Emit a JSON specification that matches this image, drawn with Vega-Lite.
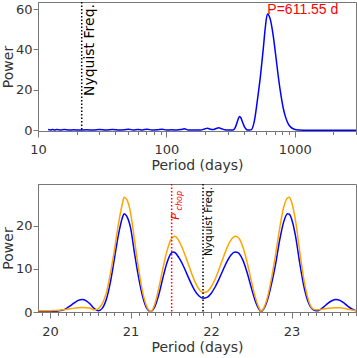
{
  "$schema": "https://vega.github.io/schema/vega-lite/v6.json",
  "padding": {"left": 0, "top": 0, "right": 2, "bottom": 1},
  "spacing": 9,
  "config": {
    "view": {"stroke": "#777", "strokeWidth": 1},
    "axis": {"labelFont": "DejaVu Sans", "titleFont": "DejaVu Sans", "labelFontSize": 13, "titleFontSize": 14, "titleFontWeight": "normal", "labelColor": "#333", "titleColor": "#333", "domainColor": "#777", "tickColor": "#777", "grid": false}
  },
  "datasets": {
    "top": [
      {"period": 12, "power": 0.3}, {"period": 12.5, "power": 0.1}, {"period": 13, "power": 0.4}, {"period": 13.5, "power": 0.1},
      {"period": 14, "power": 0.3}, {"period": 15, "power": 0.1}, {"period": 16, "power": 0.3}, {"period": 17.5, "power": 0.1},
      {"period": 19, "power": 0.2}, {"period": 21, "power": 0.1}, {"period": 24, "power": 0.2}, {"period": 27, "power": 0.05},
      {"period": 30, "power": 0.3}, {"period": 34, "power": 0.1}, {"period": 38, "power": 0.3}, {"period": 43, "power": 0.05},
      {"period": 47, "power": 0.2}, {"period": 51, "power": 0.5}, {"period": 55, "power": 0.05}, {"period": 60, "power": 0.3},
      {"period": 65, "power": 0.1}, {"period": 71, "power": 0.5}, {"period": 77, "power": 0.05}, {"period": 85, "power": 0.2},
      {"period": 93, "power": 0.5}, {"period": 100, "power": 0.05}, {"period": 110, "power": 0.2}, {"period": 120, "power": 0.1},
      {"period": 130, "power": 0.3}, {"period": 138, "power": 0.7}, {"period": 148, "power": 0.1}, {"period": 165, "power": 0.05},
      {"period": 185, "power": 0.1}, {"period": 198, "power": 0.6}, {"period": 209, "power": 1.0}, {"period": 220, "power": 0.5},
      {"period": 231, "power": 0.3}, {"period": 244, "power": 0.8}, {"period": 256, "power": 1.2}, {"period": 270, "power": 0.7},
      {"period": 285, "power": 0.2}, {"period": 302, "power": 0.05}, {"period": 320, "power": 0.05}, {"period": 331, "power": 0.1},
      {"period": 345, "power": 1.5}, {"period": 355, "power": 3.8}, {"period": 365, "power": 6.0}, {"period": 372, "power": 6.8},
      {"period": 380, "power": 6.2}, {"period": 392, "power": 4.0}, {"period": 405, "power": 1.8}, {"period": 420, "power": 0.4},
      {"period": 433, "power": 0.05}, {"period": 447, "power": 0.1}, {"period": 460, "power": 0.3}, {"period": 486, "power": 5},
      {"period": 512, "power": 15}, {"period": 541, "power": 27}, {"period": 568, "power": 40}, {"period": 590, "power": 51},
      {"period": 612, "power": 57.5}, {"period": 645, "power": 54.9}, {"period": 676, "power": 47.8}, {"period": 708, "power": 38},
      {"period": 741, "power": 27.6}, {"period": 777, "power": 18.2}, {"period": 813, "power": 11}, {"period": 852, "power": 6.1},
      {"period": 892, "power": 3}, {"period": 935, "power": 1.4}, {"period": 980, "power": 0.6}, {"period": 1075, "power": 0.1},
      {"period": 1180, "power": 0.02}, {"period": 1500, "power": 0.01}, {"period": 2000, "power": 0.01}, {"period": 3000, "power": 0.01}
    ],
    "bottom": [
      {"period": 19.85, "blue": 0.2, "orange": 0.3}, {"period": 19.9, "blue": 0.2, "orange": 0.3},
      {"period": 19.95, "blue": 0.2, "orange": 0.3}, {"period": 20.0, "blue": 0.2, "orange": 0.3},
      {"period": 20.05, "blue": 0.2, "orange": 0.35}, {"period": 20.1, "blue": 0.25, "orange": 0.4},
      {"period": 20.15, "blue": 0.4, "orange": 0.5}, {"period": 20.2, "blue": 0.8, "orange": 0.6},
      {"period": 20.25, "blue": 1.4, "orange": 0.75}, {"period": 20.3, "blue": 2.1, "orange": 0.9},
      {"period": 20.35, "blue": 2.7, "orange": 1.0}, {"period": 20.4, "blue": 2.9, "orange": 1.05},
      {"period": 20.45, "blue": 2.6, "orange": 1.0}, {"period": 20.5, "blue": 1.8, "orange": 0.85},
      {"period": 20.55, "blue": 0.8, "orange": 0.5}, {"period": 20.6, "blue": 0.3, "orange": 0.8},
      {"period": 20.65, "blue": 0.9, "orange": 2.0}, {"period": 20.7, "blue": 3.0, "orange": 4.5},
      {"period": 20.75, "blue": 7.0, "orange": 9.0}, {"period": 20.8, "blue": 12.5, "orange": 14.5},
      {"period": 20.85, "blue": 18.0, "orange": 20.5}, {"period": 20.9, "blue": 22.0, "orange": 25.3},
      {"period": 20.92, "blue": 22.8, "orange": 26.6}, {"period": 20.95, "blue": 22.3, "orange": 26.2},
      {"period": 21.0, "blue": 19.5, "orange": 23.0}, {"period": 21.05, "blue": 13.5, "orange": 16.5},
      {"period": 21.1, "blue": 8.0, "orange": 10.0}, {"period": 21.15, "blue": 3.6, "orange": 4.6},
      {"period": 21.2, "blue": 0.9, "orange": 1.3}, {"period": 21.25, "blue": 0.1, "orange": 0.1},
      {"period": 21.3, "blue": 1.2, "orange": 1.8}, {"period": 21.35, "blue": 4.0, "orange": 5.5},
      {"period": 21.4, "blue": 7.8, "orange": 10.0}, {"period": 21.45, "blue": 11.3, "orange": 14.0},
      {"period": 21.5, "blue": 13.5, "orange": 16.8}, {"period": 21.53, "blue": 13.9, "orange": 17.5},
      {"period": 21.55, "blue": 13.8, "orange": 17.6}, {"period": 21.6, "blue": 12.6, "orange": 16.5},
      {"period": 21.65, "blue": 10.9, "orange": 14.5}, {"period": 21.7, "blue": 8.8, "orange": 12.0},
      {"period": 21.75, "blue": 6.7, "orange": 9.4}, {"period": 21.8, "blue": 4.9, "orange": 7.0},
      {"period": 21.85, "blue": 3.7, "orange": 5.3}, {"period": 21.9, "blue": 3.2, "orange": 4.5},
      {"period": 21.95, "blue": 3.4, "orange": 4.7}, {"period": 22.0, "blue": 4.3, "orange": 5.8},
      {"period": 22.05, "blue": 5.8, "orange": 7.6}, {"period": 22.1, "blue": 7.7, "orange": 10.0},
      {"period": 22.15, "blue": 9.8, "orange": 12.6}, {"period": 22.2, "blue": 11.8, "orange": 15.0},
      {"period": 22.25, "blue": 13.3, "orange": 16.8}, {"period": 22.3, "blue": 13.9, "orange": 17.6},
      {"period": 22.33, "blue": 13.8, "orange": 17.4}, {"period": 22.35, "blue": 13.5, "orange": 17.0},
      {"period": 22.4, "blue": 11.8, "orange": 14.8}, {"period": 22.45, "blue": 9.0, "orange": 11.3},
      {"period": 22.5, "blue": 5.6, "orange": 7.2}, {"period": 22.55, "blue": 2.5, "orange": 3.4},
      {"period": 22.6, "blue": 0.5, "orange": 0.8}, {"period": 22.62, "blue": 0.1, "orange": 0.2},
      {"period": 22.65, "blue": 0.6, "orange": 0.8}, {"period": 22.7, "blue": 2.8, "orange": 3.4},
      {"period": 22.75, "blue": 6.5, "orange": 7.8}, {"period": 22.8, "blue": 11.0, "orange": 13.2},
      {"period": 22.85, "blue": 16.5, "orange": 19.2}, {"period": 22.9, "blue": 20.8, "orange": 24.2},
      {"period": 22.95, "blue": 22.8, "orange": 26.5}, {"period": 22.97, "blue": 22.7, "orange": 26.6},
      {"period": 23.0, "blue": 21.6, "orange": 25.5}, {"period": 23.05, "blue": 17.5, "orange": 21.0},
      {"period": 23.1, "blue": 11.5, "orange": 14.2}, {"period": 23.15, "blue": 6.2, "orange": 7.8},
      {"period": 23.2, "blue": 2.6, "orange": 3.4}, {"period": 23.25, "blue": 0.8, "orange": 1.0},
      {"period": 23.3, "blue": 0.3, "orange": 0.5}, {"period": 23.33, "blue": 0.3, "orange": 0.5},
      {"period": 23.35, "blue": 0.5, "orange": 0.55}, {"period": 23.4, "blue": 1.2, "orange": 0.7},
      {"period": 23.45, "blue": 2.0, "orange": 0.85}, {"period": 23.5, "blue": 2.6, "orange": 0.95},
      {"period": 23.55, "blue": 2.9, "orange": 1.0}, {"period": 23.6, "blue": 2.7, "orange": 1.0},
      {"period": 23.65, "blue": 2.1, "orange": 0.85}, {"period": 23.7, "blue": 1.3, "orange": 0.65},
      {"period": 23.75, "blue": 0.7, "orange": 0.45}, {"period": 23.8, "blue": 0.3, "orange": 0.3}
    ]
  },
  "vconcat": [
    {
      "width": 318,
      "height": 129,
      "layer": [
        {
          "data": {"name": "top"},
          "mark": {"type": "line", "color": "#0000ff", "strokeWidth": 1.5, "interpolate": "monotone", "clip": true},
          "encoding": {
            "x": {"field": "period", "type": "quantitative", "title": "Period (days)",
              "scale": {"type": "log", "domain": [10, 3000], "nice": false},
              "axis": {
                "values": [10, 20, 30, 40, 50, 60, 70, 80, 90, 100, 200, 300, 400, 500, 600, 700, 800, 900, 1000, 2000, 3000],
                "format": "d",
                "labelExpr": "(datum.value == 10 || datum.value == 100 || datum.value == 1000) ? datum.label : ''",
                "tickSize": {"condition": {"test": "datum.value == 10 || datum.value == 100 || datum.value == 1000", "value": 6}, "value": 3.5},
                "labelPadding": 6, "titlePadding": 2, "labelFlush": false, "labelOverlap": false
              }
            },
            "y": {"field": "power", "type": "quantitative", "title": "Power",
              "scale": {"domain": [-0.4, 63.5], "nice": false, "zero": false},
              "axis": {"values": [0, 20, 40, 60], "tickSize": 5, "labelPadding": 1, "titlePadding": 0}
            }
          }
        },
        {
          "data": {"values": [{"period": 21.9}]},
          "mark": {"type": "rule", "color": "#000000", "strokeWidth": 1.5, "strokeDash": [1.5, 2]},
          "encoding": {"x": {"field": "period", "type": "quantitative"}}
        },
        {
          "data": {"values": [{"period": 21.9, "power": 63.5, "label": "Nyquist Freq."}]},
          "mark": {"type": "text", "angle": 270, "align": "right", "baseline": "top", "dx": -2, "dy": 1, "font": "DejaVu Sans", "fontSize": 14, "color": "#000000"},
          "encoding": {
            "x": {"field": "period", "type": "quantitative"},
            "y": {"field": "power", "type": "quantitative"},
            "text": {"field": "label"}
          }
        },
        {
          "data": {"values": [{"period": 611.55, "power": 57.7, "label": "P=611.55 d"}]},
          "mark": {"type": "text", "align": "left", "baseline": "alphabetic", "font": "Liberation Sans", "fontSize": 14, "color": "#ff0000"},
          "encoding": {
            "x": {"field": "period", "type": "quantitative"},
            "y": {"field": "power", "type": "quantitative"},
            "text": {"field": "label"}
          }
        }
      ]
    },
    {
      "width": 318,
      "height": 128,
      "data": {"name": "bottom"},
      "resolve": {"axis": {"x": "independent"}},
      "layer": [
        {
          "mark": {"type": "line", "color": "#0000ff", "strokeWidth": 1.5, "interpolate": "monotone", "clip": true},
          "encoding": {
            "x": {"field": "period", "type": "quantitative", "title": "Period (days)",
              "scale": {"domain": [19.85, 23.8], "nice": false, "zero": false},
              "axis": {
                "orient": "bottom",
                "values": [20, 21, 22, 23],
                "format": "d",
                "tickSize": 6,
                "labelPadding": 7, "titlePadding": 2, "labelFlush": false, "labelOverlap": false
              }
            },
            "y": {"field": "blue", "type": "quantitative", "title": "Power",
              "scale": {"domain": [0, 29.7], "nice": false},
              "axis": {"values": [0, 10, 20], "tickSize": 5, "labelPadding": 1, "titlePadding": 0}
            }
          }
        },
        {
          "mark": {"type": "line", "color": "#ffa500", "strokeWidth": 1.5, "interpolate": "monotone", "clip": true},
          "encoding": {
            "x": {"field": "period", "type": "quantitative", "axis": null},
            "y": {"field": "orange", "type": "quantitative"}
          }
        },
        {
          "data": {"values": [{"period": 21.51}]},
          "mark": {"type": "rule", "color": "#ff0000", "strokeWidth": 1.5, "strokeDash": [1.5, 2]},
          "encoding": {"x": {"field": "period", "type": "quantitative", "axis": null}}
        },
        {
          "data": {"values": [{"period": 21.9}]},
          "mark": {"type": "rule", "color": "#000000", "strokeWidth": 1.5, "strokeDash": [1.5, 2]},
          "encoding": {"x": {"field": "period", "type": "quantitative", "axis": null}}
        },
        {
          "data": {"values": [{"period": 21.9, "blue": 29.7, "label": "Nyquist Freq."}]},
          "mark": {"type": "text", "angle": 270, "align": "right", "baseline": "top", "dx": -3, "dy": 1, "font": "DejaVu Sans", "fontSize": 10.5, "color": "#000000"},
          "encoding": {
            "x": {"field": "period", "type": "quantitative", "axis": null},
            "y": {"field": "blue", "type": "quantitative"},
            "text": {"field": "label"}
          }
        },
        {
          "data": {"values": [{"period": 21.51, "blue": 29.7, "label": "P"}]},
          "mark": {"type": "text", "angle": 270, "align": "right", "baseline": "alphabetic", "dx": -29, "dy": 7, "font": "DejaVu Sans", "fontStyle": "italic", "fontSize": 11, "color": "#ff0000"},
          "encoding": {
            "x": {"field": "period", "type": "quantitative", "axis": null},
            "y": {"field": "blue", "type": "quantitative"},
            "text": {"field": "label"}
          }
        },
        {
          "data": {"values": [{"period": 21.51, "blue": 29.7, "label": "chop"}]},
          "mark": {"type": "text", "angle": 270, "align": "right", "baseline": "alphabetic", "dx": -7, "dy": 10, "font": "DejaVu Sans", "fontStyle": "italic", "fontSize": 8, "color": "#ff0000"},
          "encoding": {
            "x": {"field": "period", "type": "quantitative", "axis": null},
            "y": {"field": "blue", "type": "quantitative"},
            "text": {"field": "label"}
          }
        },
        {
          "data": {"values": [{"period": 20}]},
          "mark": {"type": "point", "opacity": 0},
          "encoding": {
            "x": {"field": "period", "type": "quantitative",
              "axis": {
                "orient": "bottom",
                "values": [19.9, 20.1, 20.2, 20.3, 20.4, 20.5, 20.6, 20.7, 20.8, 20.9, 21.1, 21.2, 21.3, 21.4, 21.5, 21.6, 21.7, 21.8, 21.9, 22.1, 22.2, 22.3, 22.4, 22.5, 22.6, 22.7, 22.8, 22.9, 23.1, 23.2, 23.3, 23.4, 23.5, 23.6, 23.7, 23.8],
                "labels": false, "domain": false, "tickSize": 3.5, "title": null
              }
            }
          }
        }
      ]
    }
  ]
}
